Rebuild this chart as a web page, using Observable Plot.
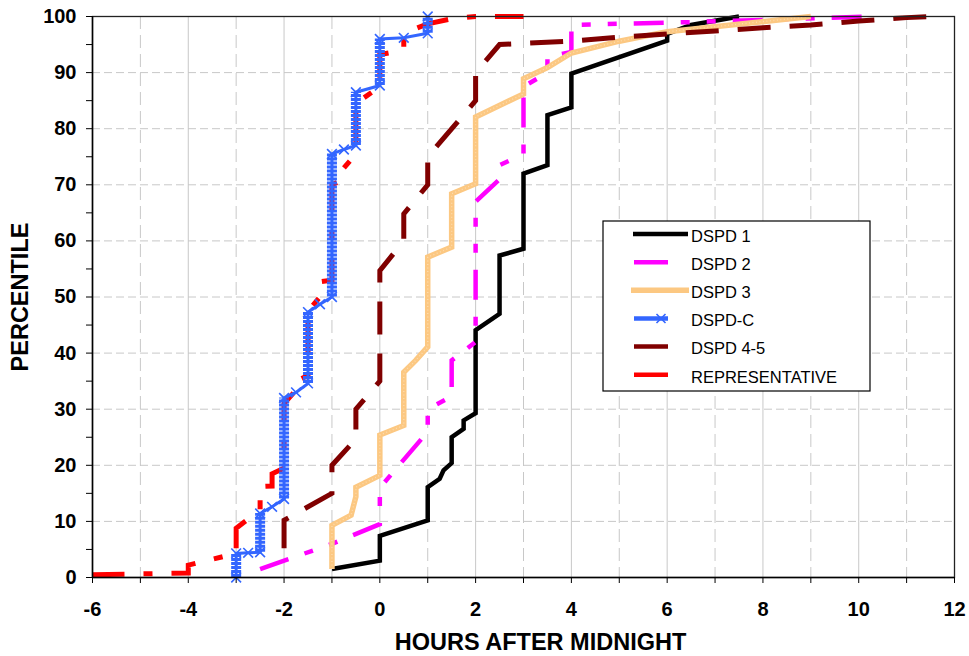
<!DOCTYPE html>
<html><head><meta charset="utf-8">
<script src="https://cdn.jsdelivr.net/npm/d3@7"></script>
<script src="https://cdn.jsdelivr.net/npm/@observablehq/plot@0.6"></script>
<style>
html,body{margin:0;padding:0;background:#fff;}
#chart{position:relative;width:969px;height:656px;overflow:hidden;}
</style></head><body><div id="chart"></div>
<script>
// ---- data (hours after midnight, percentile) ----
const seriesNames = ["DSPD 1","DSPD 2","DSPD 3","DSPD-C","DSPD 4-5","REPRESENTATIVE"];

const dspd1X = [-1,0,0,1,1,1.25,1.33,1.5,1.5,1.75,1.75,2,2,2.5,2.5,3,3,3.5,3.5,4,4,6,6,6.5,7.5];
const dspd1Y = [1.5,3,7.4,10.2,16.1,17.6,19.1,20.4,25,26.5,28,29.3,44.1,47,57.4,58.6,72,73.5,82.4,83.8,89.8,95.7,96.9,98.5,100];

const dspd2X = [-2.5,-1,0,0,1,1,1.5,1.5,2,2,2.5,2.5,3,3,3.5,3.5,4,4,5,6.5,8,10.2];
const dspd2Y = [1.5,6,9.5,16,26,30,32.3,38.7,42,67,71,73.5,75.5,87.5,90,92.8,93.7,98.5,98.7,99,99.4,100];

const dspd3X = [-1,-1,-0.6,-0.5,-0.5,0,0,0.5,0.5,0.75,1,1,1.5,1.5,2,2,3,3,3.5,4,5,6,9];
const dspd3Y = [1.5,9.3,11.1,14.4,16.1,18.2,25.4,27.1,36.6,38.7,41.1,57.1,58.9,68.4,70.2,82.1,86.2,88.9,90.9,93.5,95.6,97.3,100];

const dspdCX = [-3,-3,-2.75,-2.5,-2.5,-2.25,-2,-2,-1.75,-1.5,-1.5,-1.25,-1,-1,-0.75,-0.5,-0.5,0,0,0.5,1,1];
const dspdCY = [0,4.3,4.4,4.5,11.4,12.6,14,32,33,34.6,47.3,48.7,50,75.5,76.3,77,86.5,87.7,96,96.2,97,100];

const dspd45X = [-2,-2,-1,-1,-0.5,-0.5,0,0,0.5,0.5,1,1,2,2,2.5,4,5,6,7,8,9,10,11,11.5];
const dspd45Y = [5.2,10.2,15,20,24.7,30,35,54.7,60,64.8,70,75,85,90,95,95.6,96.3,96.9,97.4,98,98.5,99.2,99.8,100];

const reprX = [-6,-4,-4,-3,-3,-2.5,-2.5,-2.25,-2.25,-2,-2,-1.75,-1.75,-1.5,-1.5,-1.25,-1.25,-1,-1,-0.75,-0.75,-0.5,-0.5,0,0,0.5,0.5,1,1.5,2,3];
const reprY = [0.5,0.8,2.2,4.3,8.8,12,16.2,16.3,18.5,19.5,31,33.4,35,36,47.5,50,52.7,53,70,71,73,75.5,84.5,87.5,93.2,94,97,98.7,99.6,100,100];

const xTickValues = [-6,-5,-4,-3,-2,-1,0,1,2,3,4,5,6,7,8,9,10,11,12];
const xLabelValues = [-6,-4,-2,0,2,4,6,8,10,12];
const yTickValues = [0,5,10,15,20,25,30,35,40,45,50,55,60,65,70,75,80,85,90,95,100];
const yLabelValues = [0,10,20,30,40,50,60,70,80,90,100];
const gridXSolid = [-4,-2,0,2,4,6,8,10];
const gridXDashed = [-5,-3,-1,1,3,5,7,9,11];
const gridYValues = [10,20,30,40,50,60,70,80,90];

const xTitle = "HOURS AFTER MIDNIGHT";
const yTitle = "PERCENTILE";

// ---- build tables ----
const pts = (xs, ys) => xs.map((x, i) => ({x, y: ys[i]}));
const d1 = pts(dspd1X, dspd1Y), d2 = pts(dspd2X, dspd2Y), d3s = pts(dspd3X, dspd3Y);
const dc = pts(dspdCX, dspdCY), d45 = pts(dspd45X, dspd45Y), rep = pts(reprX, reprY);
// vertical runs (tied hours) of DSPD-C where its markers pile up
const dcStacks = dc.slice(1).map((p, i) => ({x: p.x, y1: dc[i].y, y2: p.y, tie: p.x === dc[i].x})).filter(d => d.tie);

const FONT = "'Liberation Sans', Arial, Helvetica, sans-serif";
const colors = {d1: "#000000", d2: "#ff00ff", d3: "#fcc882", dc: "#3366ff", d45: "#800000", rep: "#ff0000"};
const base = {x: "x", y: "y", strokeLinejoin: "miter", strokeMiterlimit: 10, strokeLinecap: "butt"};

const chart = Plot.plot({
  width: 969, height: 656,
  marginLeft: 92, marginRight: 15, marginTop: 16, marginBottom: 79,
  style: {fontFamily: FONT, background: "#fff", overflow: "visible", color: "#000"},
  x: {domain: [-6, 12]},
  y: {domain: [0, 100]},
  marks: [
    Plot.gridX(gridXSolid, {stroke: "#c8c8c8", strokeOpacity: 1, strokeWidth: 1}),
    Plot.gridX(gridXDashed, {stroke: "#c8c8c8", strokeOpacity: 1, strokeWidth: 1, strokeDasharray: "13,6"}),
    Plot.gridY(gridYValues, {stroke: "#c8c8c8", strokeOpacity: 1, strokeWidth: 1, strokeDasharray: "8,4"}),
    Plot.line(d1, {...base, stroke: colors.d1, strokeWidth: 4.5}),
    Plot.line(d2, {...base, stroke: colors.d2, strokeWidth: 4.5, strokeDasharray: "30,17,9,17,9,17"}),
    Plot.line(d3s, {...base, stroke: colors.d3, strokeWidth: 5.5}),
    Plot.line(d3s, {...base, stroke: "#fff", strokeOpacity: 0.35, strokeWidth: 1.4, strokeDasharray: "1,2.5"}),
    Plot.line(d45, {...base, stroke: colors.d45, strokeWidth: 5, strokeDasharray: "33,19"}),
    Plot.line(rep, {...base, stroke: colors.rep, strokeWidth: 5, strokeDasharray: "32,19,9,19"}),
    Plot.ruleX(dcStacks, {x: "x", y1: "y1", y2: "y2", stroke: colors.dc, strokeWidth: 10, strokeDasharray: "3,1"}),
    Plot.line(dc, {...base, stroke: colors.dc, strokeWidth: 3}),
    Plot.dot(dc, {x: "x", y: "y", symbol: "times", r: 4.5, stroke: colors.dc, strokeWidth: 1.6}),
    Plot.frame({stroke: "#222", strokeWidth: 1.3}),
    Plot.axisX(xTickValues, {tickSize: 6, tickPadding: 18, fontSize: 20, fontWeight: "bold", label: null,
      tickFormat: d => xLabelValues.includes(d) ? String(d) : ""}),
    Plot.axisY(yTickValues, {tickSize: 6, tickPadding: 10, fontSize: 20, fontWeight: "bold", label: null,
      tickFormat: d => yLabelValues.includes(d) ? String(d) : ""}),
    Plot.ruleY([0], {stroke: "#000", strokeWidth: 1.5}),
    Plot.ruleX([-6], {stroke: "#000", strokeWidth: 1.5}),
    Plot.text([xTitle], {text: d => d, frameAnchor: "bottom", lineAnchor: "middle", dx: 17, dy: 65, fontSize: 23.5, fontWeight: "bold"}),
    Plot.text([yTitle], {text: d => d, frameAnchor: "left", textAnchor: "middle", lineAnchor: "middle", dx: -72, rotate: -90, fontSize: 23.5, fontWeight: "bold"})
  ]
});
document.getElementById("chart").appendChild(chart);

// ---- legend ----
const legendStyles = [
  {stroke: colors.d1, width: 4.5, x1: 633, x2: 688},
  {stroke: colors.d2, width: 4.5, x1: 634, x2: 668},
  {stroke: colors.d3, width: 5.5, x1: 631, x2: 689},
  {stroke: colors.dc, width: 4.5, x1: 634, x2: 668, marker: 661},
  {stroke: colors.d45, width: 4.5, x1: 634, x2: 668},
  {stroke: colors.rep, width: 4.5, x1: 634, x2: 668}
];
const svg = d3.select(chart);
const lg = svg.append("g").attr("class", "legend").attr("text-anchor", "start");
lg.append("rect").attr("x", 603).attr("y", 221).attr("width", 267).attr("height", 170)
  .attr("fill", "#fff").attr("stroke", "#000").attr("stroke-width", 1.2);
seriesNames.forEach((name, i) => {
  const s = legendStyles[i];
  const ly = 234 + i * 28.15;
  lg.append("line").attr("x1", s.x1).attr("x2", s.x2).attr("y1", ly).attr("y2", ly)
    .attr("stroke", s.stroke).attr("stroke-width", s.width);
  if (s.marker) {
    const r = 4.5;
    lg.append("path").attr("d", `M${s.marker - r},${ly - r}L${s.marker + r},${ly + r}M${s.marker - r},${ly + r}L${s.marker + r},${ly - r}`)
      .attr("stroke", s.stroke).attr("stroke-width", 1.6);
  }
  lg.append("text").attr("x", 691).attr("y", ly + 7.8).text(name)
    .attr("text-anchor", "start")
    .attr("font-family", FONT).attr("font-size", 16.5).attr("fill", "#000");
});
</script></body></html>
